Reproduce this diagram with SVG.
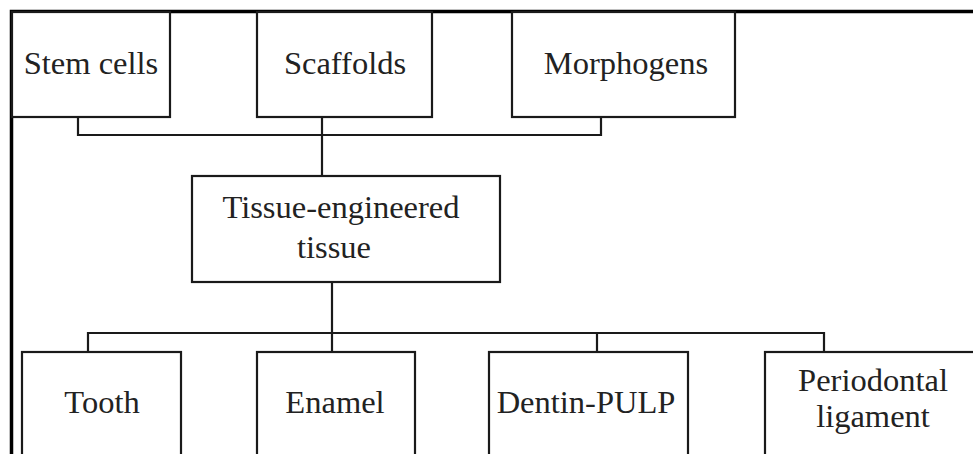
<svg xmlns="http://www.w3.org/2000/svg" width="973" height="454" viewBox="0 0 973 454">
<style>
.box{fill:#fff;stroke:#1a1a1a;stroke-width:2.2}
.c{fill:none;stroke:#1a1a1a;stroke-width:2.2}
.frame{fill:none;stroke:#000;stroke-width:3.5}
text{font-family:"Liberation Serif","Times New Roman",serif;font-size:32.5px;fill:#222;text-anchor:middle}
</style>
<rect x="0" y="0" width="973" height="454" fill="#fff"/>
<path class="frame" d="M11.5 456 V11.5 H975"/>
<g id="connectors">
<path class="c" d="M78 117 V135 H601 V117"/>
<path class="c" d="M322 117 V176"/>
<path class="c" d="M332 282 V352"/>
<path class="c" d="M88 352 V333 H824 V352"/>
<path class="c" d="M597 333 V352"/>
</g>
<g id="stem-cells"><rect class="box" x="12" y="12" width="158" height="105"/><text x="91" y="74">Stem cells</text></g>
<g id="scaffolds"><rect class="box" x="257" y="12" width="175" height="105"/><text x="345" y="74">Scaffolds</text></g>
<g id="morphogens"><rect class="box" x="512" y="12" width="223" height="105"/><text x="626" y="74">Morphogens</text></g>
<g id="tissue"><rect class="box" x="192" y="176" width="308" height="106"/><text x="341" y="218">Tissue-engineered</text><text x="334" y="258">tissue</text></g>
<g id="tooth"><rect class="box" x="22" y="352" width="159" height="110"/><text x="102" y="413">Tooth</text></g>
<g id="enamel"><rect class="box" x="257" y="352" width="158" height="110"/><text x="335" y="413">Enamel</text></g>
<g id="dentin"><rect class="box" x="489" y="352" width="199" height="110"/><text x="586" y="413">Dentin-PULP</text></g>
<g id="periodontal"><rect class="box" x="765" y="352" width="220" height="110"/><text x="873" y="391">Periodontal</text><text x="873" y="427">ligament</text></g>
</svg>
